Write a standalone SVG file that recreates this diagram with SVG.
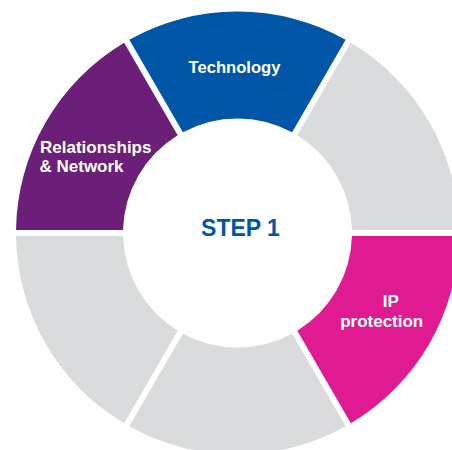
<svg xmlns="http://www.w3.org/2000/svg" width="452" height="450" viewBox="0 0 452 450">
<style>
.lbl{font-family:"Liberation Sans",Arial,sans-serif;font-weight:bold;fill:#ffffff}
.gray{fill:#dadbdd}
</style>
<rect width="452" height="450" fill="#ffffff"/>
<g id="technology">
<path d="M129.36,39.69 A221.5,221.5 0 0 1 345.64,39.69 L292.13,132.37 A114.5,114.5 0 0 0 182.87,132.37 Z" fill="#0056a6"/>
<text class="lbl" x="234.5" y="72.7" font-size="16.6" text-anchor="middle">Technology</text>
</g>
<g id="segment-upper-right">
<path class="gray" d="M350.84,42.69 A221.5,221.5 0 0 1 458.98,230 L351.96,230 A114.5,114.5 0 0 0 297.33,135.37 Z"/>
</g>
<g id="ip-protection">
<path d="M458.98,236 A221.5,221.5 0 0 1 350.84,423.31 L297.33,330.63 A114.5,114.5 0 0 0 351.96,236 Z" fill="#e01a91"/>
<text class="lbl" x="390.8" y="306.5" font-size="17" text-anchor="middle">IP</text>
<text class="lbl" x="381.7" y="326.7" font-size="17" text-anchor="middle">protection</text>
</g>
<g id="segment-bottom">
<path class="gray" d="M345.64,426.31 A221.5,221.5 0 0 1 129.36,426.31 L182.87,333.63 A114.5,114.5 0 0 0 292.13,333.63 Z"/>
</g>
<g id="segment-lower-left">
<path class="gray" d="M124.16,423.31 A221.5,221.5 0 0 1 16.02,236 L123.04,236 A114.5,114.5 0 0 0 177.67,330.63 Z"/>
</g>
<g id="relationships">
<path d="M16.02,230 A221.5,221.5 0 0 1 124.16,42.69 L177.67,135.37 A114.5,114.5 0 0 0 123.04,230 Z" fill="#6c1f78"/>
<text class="lbl" x="40" y="152.5" font-size="17">Relationships</text>
<text class="lbl" x="39.5" y="171.7" font-size="17">&amp; Network</text>
</g>
<g id="center">
<text x="240.5" y="235.7" font-family="Liberation Sans,Arial,sans-serif" font-weight="bold" font-size="23" fill="#0056a6" text-anchor="middle">STEP 1</text>
</g>
<g id="connectors"></g>
</svg>
